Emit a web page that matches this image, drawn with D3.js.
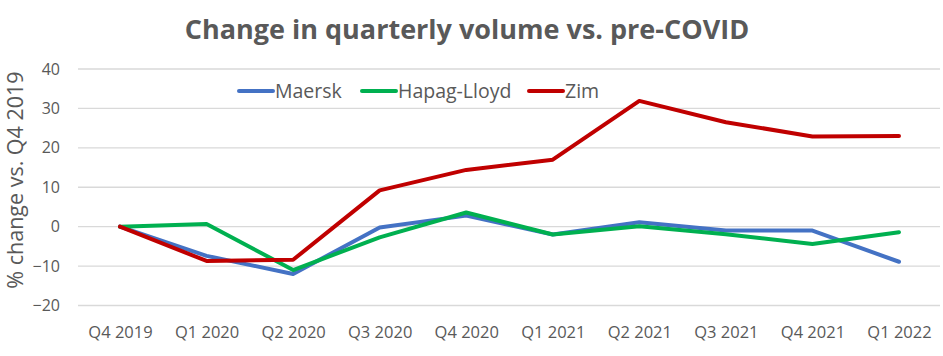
<!DOCTYPE html>
<html><head><meta charset="utf-8">
<script src="https://cdn.jsdelivr.net/npm/d3@7"></script>
<style>body{margin:0;background:#fff}svg{display:block}</style>
</head><body>
<script>
const categories = ["Q4 2019","Q1 2020","Q2 2020","Q3 2020","Q4 2020","Q1 2021","Q2 2021","Q3 2021","Q4 2021","Q1 2022"];
const maersk = [0,-7.4,-12,-0.2,2.8,-2,1.1,-1,-1,-8.9];
const hapag = [0,0.7,-11,-2.7,3.6,-2,0.1,-1.9,-4.4,-1.4];
const zim = [0,-8.7,-8.4,9.2,14.4,17,31.9,26.5,22.9,23];
const yTicks = [-20,-10,0,10,20,30,40];
const seriesNames = ["Maersk","Hapag-Lloyd","Zim"];
const seriesColors = ["#4472C4","#00B050","#C00000"];
const seriesData = [maersk, hapag, zim];

const W=943,H=356;
const svg=d3.select("body").append("svg").attr("width",W).attr("height",H);
const font="'Open Sans', 'Liberation Sans', sans-serif";
const x=d3.scalePoint().domain(categories).range([120,899]);
const y=d3.scaleLinear().domain([-20,40]).range([305.5,69]);

svg.append("text").attr("x",467).attr("y",39).attr("text-anchor","middle")
  .attr("font-family",font).attr("font-weight","bold").attr("font-size",27).attr("fill","#595959")
  .text("Change in quarterly volume vs. pre-COVID");

const grid=svg.append("g");
grid.selectAll("line").data(yTicks).join("line")
  .attr("x1",78).attr("x2",940).attr("y1",d=>y(d)).attr("y2",d=>y(d))
  .attr("stroke","#d9d9d9").attr("stroke-width",1.3);

const yAxis=svg.append("g").attr("transform","translate(60,0)")
  .call(d3.axisLeft(y).tickValues(yTicks).tickSize(0).tickPadding(0));
yAxis.select(".domain").remove();
yAxis.selectAll("text").attr("font-family",font).attr("font-size",16).attr("fill","#595959");

const xAxis=svg.append("g").attr("transform","translate(0,326)")
  .call(d3.axisBottom(x).tickSize(0).tickPadding(0));
xAxis.select(".domain").remove();
xAxis.selectAll("text").attr("font-family",font).attr("font-size",16.5).attr("fill","#595959");

svg.append("text").attr("transform","translate(23,180) rotate(-90)").attr("text-anchor","middle")
  .attr("font-family",font).attr("font-size",21.5).attr("fill","#595959")
  .text("% change vs. Q4 2019");

const line=d3.line().x((d,i)=>x(categories[i])).y(d=>y(d));
seriesData.forEach((s,i)=>{
  svg.append("path").datum(s).attr("d",line).attr("fill","none")
    .attr("stroke",seriesColors[i]).attr("stroke-width",4).attr("stroke-linejoin","round").attr("stroke-linecap","round");
});

const legX=[239,362,529];
const leg=svg.append("g");
seriesNames.forEach((n,i)=>{
  leg.append("line").attr("x1",legX[i]).attr("x2",legX[i]+34).attr("y1",91).attr("y2",91)
    .attr("stroke",seriesColors[i]).attr("stroke-width",4).attr("stroke-linecap","round");
  leg.append("text").attr("x",legX[i]+36).attr("y",98).attr("font-family",font).attr("font-size",19.5)
    .attr("fill","#595959").text(n);
});
</script>
</body></html>
